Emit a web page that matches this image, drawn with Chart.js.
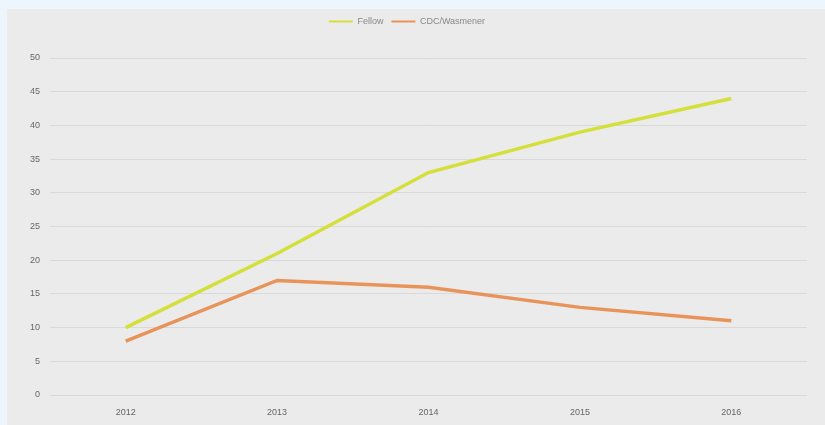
<!DOCTYPE html>
<html>
<head>
<meta charset="utf-8">
<script src="https://cdn.jsdelivr.net/npm/chart.js@4/dist/chart.umd.min.js"></script>
<style>
html,body{margin:0;padding:0;background:#eef6fd;}
#wrap{width:825px;height:425px;position:relative;}
</style>
</head>
<body>
<div id="wrap"><canvas id="c" width="825" height="425"></canvas></div>
<script>
const categories = ['2012', '2013', '2014', '2015', '2016'];
const fellowValues = [10, 21, 33, 39, 44];
const cdcValues = [8, 17, 16, 13, 11];
const seriesNames = ['Fellow', 'CDC/Wasmener'];
const yTicks = [0, 5, 10, 15, 20, 25, 30, 35, 40, 45, 50];

const bgPlugin = {
  id: 'bg',
  beforeDraw(chart) {
    const ctx = chart.ctx;
    ctx.save();
    ctx.fillStyle = '#eef6fd';
    ctx.fillRect(0, 0, chart.width, chart.height);
    ctx.fillStyle = '#ebebeb';
    ctx.fillRect(7, 9, chart.width - 7, chart.height - 9);
    ctx.restore();
  }
};
const legendFix = {
  id: 'legendFix',
  afterInit(chart) {
    const lg = chart.legend;
    if (lg) {
      const orig = lg.fit;
      lg.fit = function () { orig.call(this); this.height = 49; };
    }
  }
};

new Chart(document.getElementById('c'), {
  type: 'line',
  data: {
    labels: categories,
    datasets: [
      { label: seriesNames[0], data: fellowValues, borderColor: '#d5df3a', backgroundColor: '#d5df3a', borderWidth: 3.5, pointRadius: 0, tension: 0 },
      { label: seriesNames[1], data: cdcValues, borderColor: '#e8935a', backgroundColor: '#e8935a', borderWidth: 3.5, pointRadius: 0, tension: 0 }
    ]
  },
  options: {
    responsive: false,
    animation: false,
    devicePixelRatio: 1,
    layout: { padding: { left: 7, top: 9, right: 18, bottom: 0 } },
    plugins: {
      legend: {
        position: 'top',
        labels: {
          boxWidth: 24, boxHeight: 2, color: '#888', padding: 8,
          font: { family: 'Liberation Sans Narrow, Liberation Sans', size: 9 },
          generateLabels(chart) {
            const items = Chart.defaults.plugins.legend.labels.generateLabels(chart);
            items.forEach(it => { it.lineWidth = 0; it.strokeStyle = it.fillStyle; });
            return items;
          }
        }
      },
      tooltip: { enabled: false }
    },
    scales: {
      x: {
        offset: true,
        grid: { display: false, drawTicks: false },
        border: { display: false },
        ticks: { color: '#666', font: { family: 'Liberation Sans Narrow, Liberation Sans', size: 9 }, padding: 12, maxRotation: 0 },
        afterFit(s) { s.height = 30; }
      },
      y: {
        min: 0, max: 50,
        afterBuildTicks(s) { s.ticks = yTicks.map(v => ({ value: v })); },
        grid: { color: '#d9d9d9', lineWidth: 1, drawTicks: false },
        border: { display: false },
        ticks: { color: '#666', font: { family: 'Liberation Sans Narrow, Liberation Sans', size: 9 }, padding: 10 },
        afterFit(s) { s.width = 43; }
      }
    }
  },
  plugins: [bgPlugin, legendFix]
});
</script>
</body>
</html>
